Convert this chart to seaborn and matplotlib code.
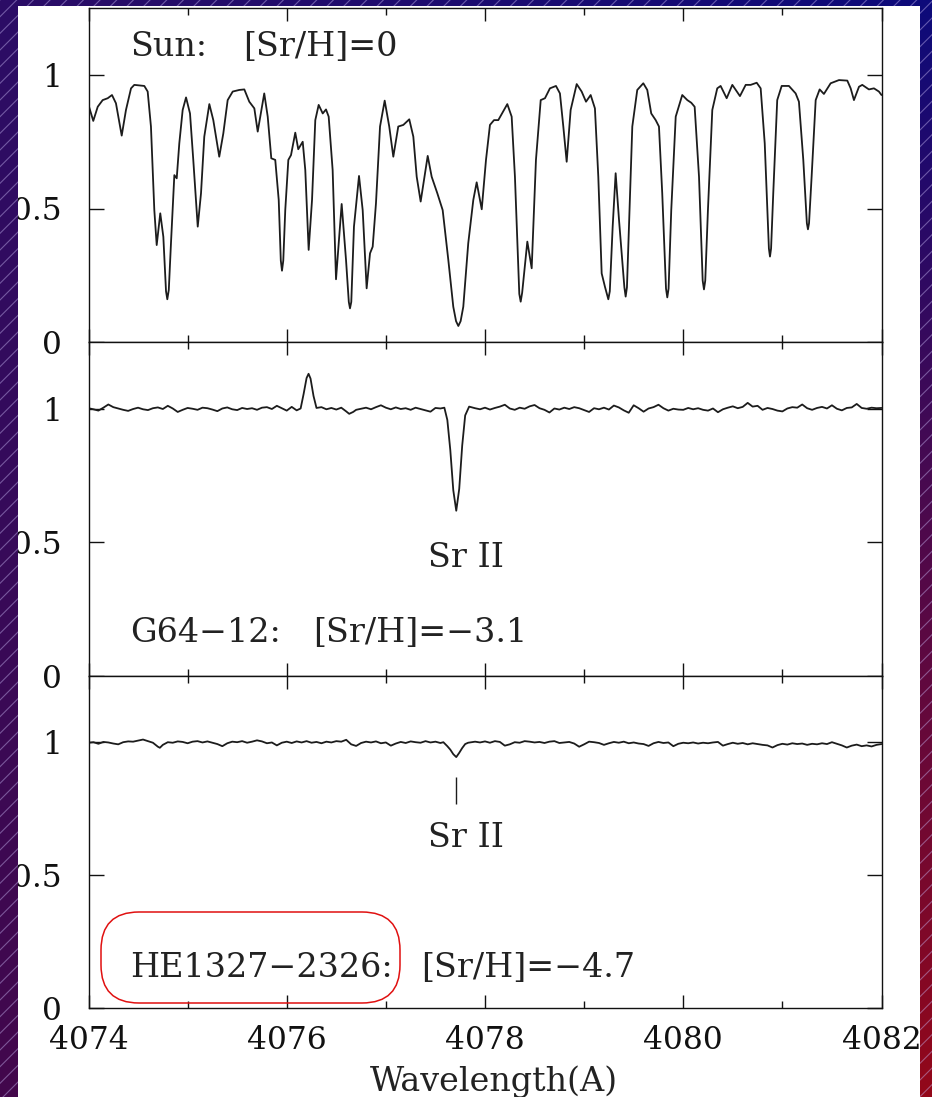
import numpy as np
import matplotlib
matplotlib.use("Agg")
import matplotlib.pyplot as plt
import seaborn as sns
from matplotlib.patches import FancyBboxPatch, PathPatch
from matplotlib.path import Path
from matplotlib.ticker import MultipleLocator

# --- spectrum of the Sun ---
sun_wave = [4074.000, 4074.048, 4074.093, 4074.143, 4074.194, 4074.237, 4074.277, 4074.335,
            4074.378, 4074.429, 4074.462, 4074.563, 4074.597, 4074.630, 4074.664, 4074.688,
            4074.724, 4074.755, 4074.782, 4074.795, 4074.810, 4074.832, 4074.866, 4074.890,
            4074.916, 4074.950, 4074.984, 4075.024, 4075.057, 4075.102, 4075.135, 4075.168,
            4075.219, 4075.259, 4075.319, 4075.360, 4075.404, 4075.455, 4075.521, 4075.572,
            4075.622, 4075.673, 4075.707, 4075.773, 4075.808, 4075.844, 4075.884, 4075.919,
            4075.940, 4075.952, 4075.965, 4075.985, 4076.016, 4076.043, 4076.086, 4076.116,
            4076.161, 4076.187, 4076.221, 4076.255, 4076.288, 4076.322, 4076.363, 4076.396,
            4076.423, 4076.463, 4076.497, 4076.554, 4076.598, 4076.626, 4076.638, 4076.651,
            4076.678, 4076.729, 4076.766, 4076.806, 4076.840, 4076.867, 4076.900, 4076.941,
            4076.988, 4077.034, 4077.075, 4077.125, 4077.176, 4077.236, 4077.277, 4077.311,
            4077.351, 4077.422, 4077.462, 4077.519, 4077.573, 4077.630, 4077.680, 4077.708,
            4077.731, 4077.754, 4077.781, 4077.831, 4077.882, 4077.916, 4077.967, 4078.010,
            4078.050, 4078.091, 4078.134, 4078.225, 4078.269, 4078.302, 4078.346, 4078.360,
            4078.375, 4078.427, 4078.471, 4078.514, 4078.562, 4078.605, 4078.655, 4078.716,
            4078.756, 4078.790, 4078.824, 4078.864, 4078.925, 4078.975, 4079.019, 4079.066,
            4079.109, 4079.143, 4079.177, 4079.210, 4079.244, 4079.259, 4079.288, 4079.318,
            4079.352, 4079.406, 4079.419, 4079.432, 4079.452, 4079.486, 4079.536, 4079.597,
            4079.637, 4079.677, 4079.722, 4079.755, 4079.788, 4079.826, 4079.839, 4079.852,
            4079.879, 4079.924, 4079.990, 4080.041, 4080.081, 4080.115, 4080.159, 4080.196,
            4080.209, 4080.222, 4080.249, 4080.293, 4080.343, 4080.377, 4080.438, 4080.495,
            4080.572, 4080.630, 4080.680, 4080.741, 4080.781, 4080.822, 4080.864, 4080.875,
            4080.886, 4080.908, 4080.948, 4080.993, 4081.066, 4081.134, 4081.167, 4081.211,
            4081.247, 4081.258, 4081.269, 4081.295, 4081.336, 4081.376, 4081.419, 4081.487,
            4081.571, 4081.655, 4081.689, 4081.722, 4081.773, 4081.806, 4081.873, 4081.924,
            4081.974, 4082.000]
sun_flux = [0.888, 0.828, 0.881, 0.906, 0.913, 0.925, 0.894, 0.773,
            0.869, 0.950, 0.963, 0.959, 0.938, 0.807, 0.494, 0.363,
            0.482, 0.394, 0.190, 0.160, 0.195, 0.370, 0.625, 0.613,
            0.744, 0.869, 0.916, 0.856, 0.682, 0.432, 0.557, 0.769,
            0.891, 0.831, 0.694, 0.781, 0.906, 0.938, 0.944, 0.946,
            0.900, 0.875, 0.788, 0.931, 0.844, 0.688, 0.682, 0.532,
            0.305, 0.267, 0.305, 0.494, 0.682, 0.700, 0.784, 0.722,
            0.750, 0.644, 0.345, 0.532, 0.831, 0.888, 0.856, 0.871,
            0.844, 0.644, 0.235, 0.517, 0.307, 0.150, 0.126, 0.150,
            0.432, 0.622, 0.494, 0.201, 0.332, 0.357, 0.519, 0.807,
            0.904, 0.807, 0.694, 0.807, 0.813, 0.834, 0.769, 0.619,
            0.526, 0.697, 0.619, 0.557, 0.494, 0.307, 0.132, 0.078,
            0.060, 0.078, 0.132, 0.370, 0.532, 0.598, 0.497, 0.682,
            0.813, 0.831, 0.831, 0.891, 0.844, 0.619, 0.180, 0.151,
            0.185, 0.376, 0.276, 0.682, 0.906, 0.913, 0.950, 0.959,
            0.931, 0.807, 0.675, 0.869, 0.966, 0.938, 0.900, 0.925,
            0.875, 0.619, 0.257, 0.207, 0.160, 0.190, 0.432, 0.632,
            0.457, 0.205, 0.170, 0.205, 0.432, 0.807, 0.944, 0.969,
            0.944, 0.856, 0.831, 0.807, 0.557, 0.200, 0.167, 0.200,
            0.494, 0.844, 0.925, 0.906, 0.896, 0.881, 0.619, 0.230,
            0.197, 0.230, 0.494, 0.869, 0.950, 0.959, 0.913, 0.963,
            0.921, 0.963, 0.963, 0.971, 0.950, 0.744, 0.350, 0.320,
            0.350, 0.557, 0.906, 0.959, 0.959, 0.931, 0.900, 0.682,
            0.445, 0.422, 0.445, 0.619, 0.906, 0.946, 0.929, 0.969,
            0.981, 0.979, 0.950, 0.906, 0.956, 0.963, 0.946, 0.950,
            0.938, 0.925]

# --- G64-12 ---
g64_wave = [4074.00, 4074.05, 4074.10, 4074.15, 4074.20, 4074.25, 4074.30, 4074.35, 4074.40, 4074.45,
            4074.50, 4074.55, 4074.60, 4074.65, 4074.70, 4074.75, 4074.80, 4074.85, 4074.90, 4074.95,
            4075.00, 4075.05, 4075.10, 4075.15, 4075.20, 4075.25, 4075.30, 4075.35, 4075.40, 4075.45,
            4075.50, 4075.55, 4075.60, 4075.65, 4075.70, 4075.75, 4075.80, 4075.85, 4075.90, 4075.95,
            4076.00, 4076.05, 4076.10, 4076.14, 4076.17, 4076.20, 4076.22, 4076.24, 4076.27, 4076.30,
            4076.35, 4076.40, 4076.45, 4076.50, 4076.55, 4076.60, 4076.63, 4076.67, 4076.70, 4076.75,
            4076.80, 4076.85, 4076.90, 4076.95, 4077.00, 4077.05, 4077.10, 4077.15, 4077.20, 4077.25,
            4077.30, 4077.35, 4077.40, 4077.45, 4077.50, 4077.55, 4077.59, 4077.62, 4077.65, 4077.68,
            4077.71, 4077.74, 4077.77, 4077.80, 4077.84, 4077.90, 4077.95, 4078.00, 4078.05, 4078.10,
            4078.15, 4078.20, 4078.25, 4078.30, 4078.35, 4078.40, 4078.45, 4078.50, 4078.55, 4078.60,
            4078.65, 4078.70, 4078.75, 4078.80, 4078.85, 4078.90, 4078.95, 4079.00, 4079.05, 4079.10,
            4079.15, 4079.20, 4079.25, 4079.30, 4079.35, 4079.40, 4079.45, 4079.50, 4079.55, 4079.60,
            4079.65, 4079.70, 4079.75, 4079.80, 4079.85, 4079.90, 4079.95, 4080.00, 4080.05, 4080.10,
            4080.15, 4080.20, 4080.25, 4080.30, 4080.35, 4080.40, 4080.45, 4080.50, 4080.55, 4080.60,
            4080.65, 4080.70, 4080.75, 4080.80, 4080.85, 4080.90, 4080.95, 4081.00, 4081.05, 4081.10,
            4081.15, 4081.20, 4081.25, 4081.30, 4081.35, 4081.40, 4081.45, 4081.50, 4081.55, 4081.60,
            4081.65, 4081.70, 4081.75, 4081.80, 4081.85, 4081.90, 4081.95, 4082.00]
g64_flux = [1.002, 0.998, 0.993, 1.004, 1.016, 1.006, 1.001, 0.996, 0.992, 0.999,
            1.004, 0.998, 0.995, 1.002, 1.005, 0.999, 1.011, 1.001, 0.988, 0.996,
            1.003, 1.000, 0.996, 1.004, 1.002, 0.997, 0.991, 1.001, 1.005, 0.998,
            0.995, 1.003, 0.999, 1.002, 0.996, 1.004, 1.006, 0.999, 1.011, 1.002,
            0.993, 1.007, 0.994, 1.001, 1.055, 1.115, 1.131, 1.113, 1.048, 1.003,
            1.006, 0.998, 1.003, 0.997, 1.004, 0.990, 0.981, 0.988, 0.996, 1.000,
            1.004, 0.998, 1.006, 1.013, 1.004, 0.998, 1.005, 0.999, 1.002, 0.996,
            1.004, 0.999, 0.994, 0.989, 1.003, 1.001, 1.004, 0.958, 0.845, 0.695,
            0.618, 0.700, 0.862, 0.975, 1.008, 1.002, 0.998, 1.004, 0.997, 1.003,
            1.008, 1.015, 1.001, 0.996, 1.004, 1.000, 1.009, 1.014, 1.002, 0.996,
            0.986, 1.001, 0.997, 1.004, 0.999, 1.006, 1.002, 0.995, 0.988, 1.002,
            0.998, 1.004, 0.997, 1.012, 1.005, 0.994, 0.985, 1.013, 1.002, 0.989,
            1.001, 1.006, 1.015, 1.002, 0.993, 1.000, 0.997, 0.996, 1.003, 0.998,
            1.002, 0.996, 0.993, 1.001, 0.987, 0.998, 1.004, 1.009, 1.002, 1.007,
            1.022, 1.008, 1.011, 0.996, 1.003, 0.999, 0.993, 0.990, 1.001, 1.006,
            1.004, 1.016, 1.002, 0.996, 1.003, 1.007, 1.001, 1.013, 1.000, 0.994,
            1.003, 1.005, 1.018, 1.003, 1.000, 1.004, 1.002, 1.003]

# --- HE1327-2326 ---
he_wave = [4074.00, 4074.05, 4074.10, 4074.15, 4074.20, 4074.25, 4074.30, 4074.35, 4074.40, 4074.45,
           4074.50, 4074.55, 4074.60, 4074.65, 4074.70, 4074.72, 4074.75, 4074.80, 4074.85, 4074.90,
           4074.95, 4075.00, 4075.05, 4075.10, 4075.15, 4075.20, 4075.25, 4075.30, 4075.35, 4075.40,
           4075.45, 4075.50, 4075.55, 4075.60, 4075.65, 4075.70, 4075.75, 4075.80, 4075.85, 4075.90,
           4075.95, 4076.00, 4076.05, 4076.10, 4076.15, 4076.20, 4076.25, 4076.30, 4076.35, 4076.40,
           4076.45, 4076.50, 4076.55, 4076.60, 4076.65, 4076.70, 4076.75, 4076.80, 4076.85, 4076.90,
           4076.95, 4077.00, 4077.05, 4077.10, 4077.15, 4077.20, 4077.25, 4077.30, 4077.35, 4077.40,
           4077.45, 4077.50, 4077.55, 4077.58, 4077.62, 4077.65, 4077.68, 4077.71, 4077.74, 4077.77,
           4077.80, 4077.83, 4077.90, 4077.95, 4078.00, 4078.05, 4078.10, 4078.15, 4078.20, 4078.25,
           4078.30, 4078.35, 4078.40, 4078.45, 4078.50, 4078.55, 4078.60, 4078.65, 4078.70, 4078.75,
           4078.80, 4078.85, 4078.90, 4078.95, 4079.00, 4079.05, 4079.10, 4079.15, 4079.20, 4079.25,
           4079.30, 4079.35, 4079.40, 4079.45, 4079.50, 4079.55, 4079.60, 4079.65, 4079.70, 4079.75,
           4079.80, 4079.85, 4079.90, 4079.95, 4080.00, 4080.05, 4080.10, 4080.15, 4080.20, 4080.25,
           4080.30, 4080.35, 4080.40, 4080.45, 4080.50, 4080.55, 4080.60, 4080.65, 4080.70, 4080.75,
           4080.80, 4080.85, 4080.90, 4080.95, 4081.00, 4081.05, 4081.10, 4081.15, 4081.20, 4081.25,
           4081.30, 4081.35, 4081.40, 4081.45, 4081.50, 4081.55, 4081.60, 4081.65, 4081.70, 4081.75,
           4081.80, 4081.85, 4081.90, 4081.95, 4082.00]
he_flux = [0.998, 1.000, 0.994, 1.001, 0.999, 0.995, 0.992, 1.000, 1.003, 1.002,
           1.006, 1.010, 1.004, 0.998, 0.983, 0.979, 0.990, 1.000, 0.998, 1.003,
           1.001, 0.996, 1.002, 1.004, 0.999, 1.003, 0.998, 0.993, 0.985, 0.996,
           1.002, 1.000, 1.004, 0.998, 1.002, 1.007, 1.003, 0.996, 0.999, 0.988,
           0.998, 1.002, 0.997, 1.003, 0.999, 1.004, 0.998, 1.001, 0.996, 1.002,
           0.999, 1.004, 1.002, 1.009, 0.992, 0.986, 0.997, 1.002, 0.999, 1.003,
           0.996, 0.999, 0.987, 0.995, 1.001, 0.997, 1.003, 1.000, 0.998, 1.004,
           0.999, 1.002, 0.997, 1.000, 0.985, 0.972, 0.955, 0.944, 0.960, 0.978,
           0.993, 0.998, 1.002, 0.999, 1.003, 0.998, 1.004, 1.001, 0.987, 0.992,
           1.000, 0.998, 1.004, 1.002, 0.999, 1.001, 0.997, 1.002, 1.004, 0.997,
           0.999, 1.001, 0.995, 0.983, 0.992, 1.002, 1.000, 0.997, 0.990, 0.996,
           1.001, 0.998, 1.002, 0.996, 0.999, 0.995, 0.993, 0.986, 0.996, 1.001,
           0.997, 0.999, 0.985, 0.994, 0.998, 0.996, 0.999, 0.995, 0.998, 0.996,
           0.999, 1.001, 0.987, 0.993, 0.998, 0.994, 0.997, 0.992, 0.996, 0.993,
           0.990, 0.988, 0.980, 0.989, 0.994, 0.991, 0.996, 0.993, 0.995, 0.990,
           0.994, 0.992, 0.996, 0.993, 1.000, 0.994, 0.988, 0.980, 0.987, 0.991,
           0.985, 0.988, 0.984, 0.990, 0.993]

star_names = ["Sun:", "G64\u221212:", "HE1327\u22122326:"]
abundances = ["[Sr/H]=0", "[Sr/H]=\u22123.1", "[Sr/H]=\u22124.7"]
name_pos = [(4074.42, 1.105), (4074.42, 0.161), (4074.42, 0.150)]
abund_x = [4075.56, 4076.27, 4077.36]
sr_line = 4077.71
sr_label_x = 4077.42
sr_label_y = [0.442, 0.640]
sr_mark = (0.768, 0.869)

W, H = 932, 1097
sns.set_theme(style="ticks", rc={"axes.edgecolor": "#111111", "xtick.color": "#111111",
                                 "ytick.color": "#111111", "text.color": "#222222",
                                 "axes.labelcolor": "#222222", "axes.linewidth": 1.0})
plt.rcParams["font.family"] = ["DejaVu Serif"]
plt.rcParams["hatch.linewidth"] = 0.8

fig = plt.figure(figsize=(W / 100, H / 100), dpi=100, facecolor="white")

# panel edges in pixels (top, bottom)
panel_px = [(8.25, 342), (342, 675.75), (675.75, 1008)]
axes = []
for top, bot in panel_px:
    ax = fig.add_axes([88.5 / W, 1 - bot / H, 793 / W, (bot - top) / H])
    axes.append(ax)

spectra = [(sun_wave, sun_flux), (g64_wave, g64_flux), (he_wave, he_flux)]
for i, (ax, (wv, fl)) in enumerate(zip(axes, spectra)):
    sns.lineplot(x=wv, y=fl, ax=ax, color="#1c1c1c", linewidth=1.3, estimator=None,
                 sort=False, solid_joinstyle="round")
    ax.set_xlim(4074, 4082)
    ax.set_ylim(0, 1.25)
    ax.set_xticks([4074, 4076, 4078, 4080, 4082])
    ax.xaxis.set_minor_locator(MultipleLocator(1))
    ax.set_yticks([0, 0.5, 1])
    ax.set_yticklabels(["0", "0.5", "1"])
    ax.tick_params(axis="x", which="major", direction="in", top=True, bottom=True,
                   length=9.5, width=1.0, labelsize=22.5, pad=12,
                   labelbottom=(i == 2))
    ax.tick_params(axis="x", which="minor", direction="in", top=True, bottom=True,
                   length=5, width=1.0)
    ax.tick_params(axis="y", which="major", direction="in", left=True, right=True,
                   length=11, width=1.0, labelsize=22.5, pad=19)
    ax.set_xlabel("")
    ax.set_ylabel("")
    for s in ax.spines.values():
        s.set_visible(True)
    ax.text(name_pos[i][0], name_pos[i][1], star_names[i], fontsize=24, va="center", ha="left")
    ax.text(abund_x[i], name_pos[i][1], abundances[i], fontsize=24, va="center", ha="left")

axes[1].text(sr_label_x, sr_label_y[0], "Sr II", fontsize=24, va="center", ha="left")
axes[2].text(sr_label_x, sr_label_y[1], "Sr II", fontsize=24, va="center", ha="left")
axes[2].vlines(sr_line, sr_mark[0], sr_mark[1], color="#1c1c1c", linewidth=1.0)

axes[2].set_xlabel("Wavelength(A)", fontsize=24)
axes[2].xaxis.set_label_coords((494 - 88.5) / 793, -0.222)
axes[2].xaxis.label.set_va("center")

# slide frame: gradient border with hatching, white inside
frame = fig.add_axes([0, 0, 1, 1], zorder=20)
frame.axis("off")
yy, xx = np.mgrid[0:H, 0:W]
u = (xx / (W - 1))[..., None]
v = (yy / (H - 1))[..., None]
tl = np.array([0.17, 0.05, 0.40])
tr = np.array([0.05, 0.04, 0.48])
bl = np.array([0.26, 0.03, 0.30])
br = np.array([0.58, 0.03, 0.10])
rgb = (1 - u) * (1 - v) * tl + u * (1 - v) * tr + (1 - u) * v * bl + u * v * br
inside = (xx >= 18) & (xx < 920) & (yy >= 6)
rgba = np.concatenate([rgb, (~inside)[..., None].astype(float)], axis=2)
frame.imshow(rgba, extent=(0, W, H, 0), interpolation="nearest", aspect="auto")
frame.set_xlim(0, W)
frame.set_ylim(H, 0)

verts = [(0, 0), (W, 0), (W, H), (0, H), (0, 0),
         (18, 6), (18, H), (920, H), (920, 6), (18, 6)]
codes = [Path.MOVETO, Path.LINETO, Path.LINETO, Path.LINETO, Path.CLOSEPOLY] * 2
frame.add_patch(PathPatch(Path(verts, codes), facecolor="none",
                          edgecolor=(0.78, 0.72, 0.95, 0.45), hatch="//", linewidth=0))

# red rounded box around the star name
r = 38
frame.add_patch(FancyBboxPatch((101 + r, 912 + r), 299 - 2 * r, 91 - 2 * r,
                               boxstyle=f"round,pad={r},rounding_size={r}",
                               facecolor="none", edgecolor="#e01010", linewidth=1.1))

fig.savefig("out.png", dpi=100, facecolor="white")
